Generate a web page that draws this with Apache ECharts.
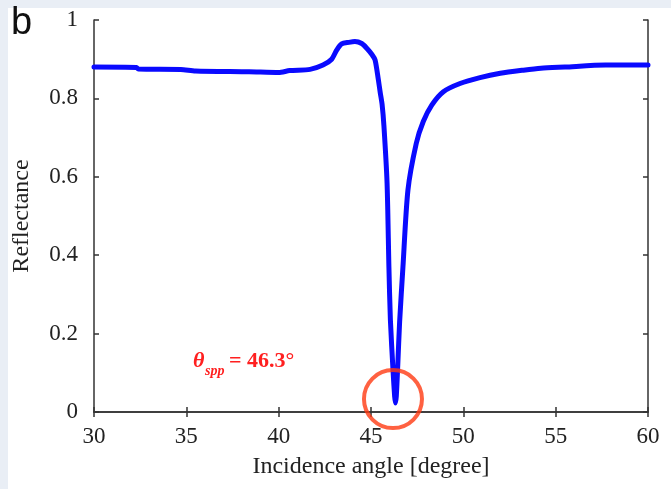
<!DOCTYPE html>
<html>
<head>
<meta charset="utf-8">
<script src="https://cdn.jsdelivr.net/npm/echarts@6/dist/echarts.min.js"></script>
<style>
html,body{margin:0;padding:0;background:#e9eef5;}
#c{position:absolute;left:0;top:0;width:671px;height:489px;}
</style>
</head>
<body>
<div id="c"></div>
<script>
// Incidence angle [degree]
const angles = [30.0, 32.3, 32.4, 34.7, 35.5, 38.4, 40.0, 40.6, 41.7, 42.4, 42.87, 43.14, 43.41, 43.8, 44.13, 44.5, 44.77, 45.05, 45.22, 45.4, 45.5, 45.6, 45.7, 45.87, 45.97, 46.05, 46.2, 46.28, 46.32, 46.37, 46.45, 46.55, 46.73, 47.0, 47.45, 47.83, 48.29, 48.92, 49.82, 50.9, 52.0, 53.25, 54.2, 55.5, 57.7, 60.0];
// Reflectance
const reflectance = [0.880, 0.879, 0.875, 0.874, 0.870, 0.868, 0.866, 0.871, 0.874, 0.885, 0.900, 0.923, 0.939, 0.943, 0.945, 0.940, 0.928, 0.912, 0.898, 0.847, 0.815, 0.785, 0.730, 0.584, 0.370, 0.235, 0.100, 0.040, 0.023, 0.040, 0.120, 0.230, 0.370, 0.566, 0.685, 0.741, 0.783, 0.817, 0.838, 0.853, 0.864, 0.872, 0.877, 0.880, 0.885, 0.885];
// Highlight marker at the SPP minimum
const sppMarker = [[46.19, 0.033]];
const xTicks = {min: 30, max: 60, step: 5};
const yTicks = {min: 0, max: 1, step: 0.2};
const panelLetter = 'b';
const xTitle = 'Incidence angle [degree]';
const yTitle = 'Reflectance';

const serif = "'Liberation Serif','Times New Roman',serif";
const axisLine = {show: true, lineStyle: {color: '#333', width: 1.5}};
const axisTick = {show: true, inside: true, length: 5, lineStyle: {color: '#333', width: 1.5}};

const chart = echarts.init(document.getElementById('c'), null, {renderer: 'canvas'});
chart.setOption({
  backgroundColor: 'transparent',
  animation: false,
  grid: {left: 94, right: 23, top: 20, bottom: 77},
  xAxis: [{
    type: 'value', min: xTicks.min, max: xTicks.max, interval: xTicks.step,
    position: 'bottom',
    axisLine: axisLine, axisTick: axisTick, splitLine: {show: false},
    axisLabel: {fontFamily: serif, fontSize: 23, color: '#222', margin: 13},
    name: xTitle, nameLocation: 'middle', nameGap: 43,
    nameTextStyle: {fontFamily: serif, fontSize: 24, color: '#222'}
  }, {
    type: 'value', min: xTicks.min, max: xTicks.max, interval: xTicks.step,
    position: 'top',
    axisLine: axisLine, axisTick: axisTick, splitLine: {show: false},
    axisLabel: {show: false}
  }],
  yAxis: [{
    type: 'value', min: yTicks.min, max: yTicks.max, interval: yTicks.step,
    position: 'left',
    axisLine: axisLine, axisTick: axisTick, splitLine: {show: false},
    axisLabel: {fontFamily: serif, fontSize: 23, color: '#222', margin: 16},
    name: yTitle, nameLocation: 'middle', nameGap: 60,
    nameTextStyle: {fontFamily: serif, fontSize: 24, color: '#222'}
  }, {
    type: 'value', min: yTicks.min, max: yTicks.max, interval: yTicks.step,
    position: 'right',
    axisLine: axisLine, axisTick: axisTick, splitLine: {show: false},
    axisLabel: {show: false}
  }],
  series: [{
    type: 'line',
    data: angles.map((a, i) => [a, reflectance[i]]),
    showSymbol: false,
    smooth: 0.25,
    lineStyle: {color: '#0a0aff', width: 5, cap: 'round', join: 'round'},
    z: 3
  }, {
    type: 'scatter',
    data: sppMarker,
    symbol: 'circle',
    symbolSize: 58,
    clip: false,
    itemStyle: {color: 'rgba(0,0,0,0)', borderColor: '#ff3a12', borderWidth: 4},
    z: 4
  }],
  graphic: [
    {type: 'rect', z: -10, shape: {x: 8, y: 8, width: 663, height: 481}, style: {fill: '#ffffff'}},
    {type: 'text', left: 11, top: 5, style: {text: panelLetter, fontFamily: "'Liberation Sans',Arial,sans-serif", fontSize: 38, fill: '#111'}},
    {type: 'text', x: 193, y: 350, style: {text: 'θ', fontFamily: serif, fontSize: 22, fontStyle: 'italic', fontWeight: 'bold', fill: '#ff2020'}},
    {type: 'text', x: 205, y: 364, style: {text: 'spp', fontFamily: serif, fontSize: 14, fontStyle: 'italic', fontWeight: 'bold', fill: '#ff2020'}},
    {type: 'text', x: 229, y: 350, style: {text: '= 46.3°', fontFamily: serif, fontSize: 22, fontWeight: 'bold', fill: '#ff2020'}}
  ]
});
</script>
</body>
</html>
